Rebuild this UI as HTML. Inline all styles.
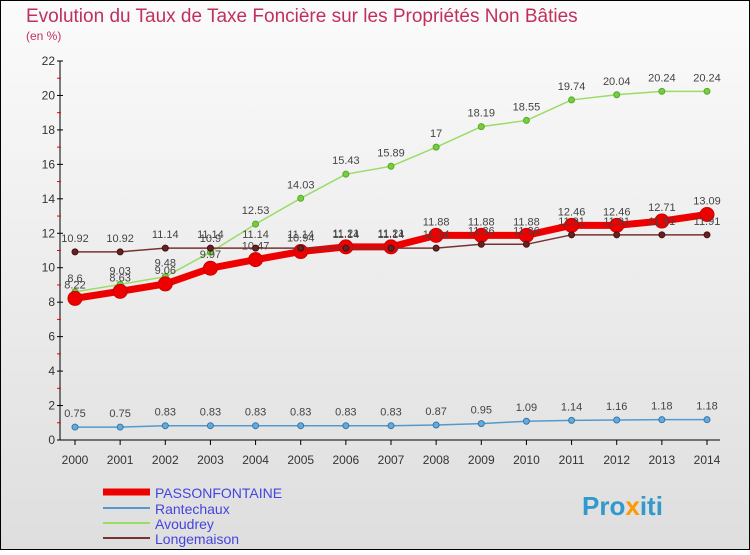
<!DOCTYPE html>
<html><head><meta charset="utf-8"><style>
body{margin:0;width:750px;height:550px;overflow:hidden;font-family:"Liberation Sans",sans-serif}
</style></head><body>
<svg id="c" width="750" height="550" xmlns="http://www.w3.org/2000/svg">
<defs><linearGradient id="bg" x1="0" y1="0" x2="0" y2="1"><stop offset="0" stop-color="#fbfbfb"/><stop offset="1" stop-color="#dedede"/></linearGradient></defs>
<rect x="0.5" y="0.5" width="749" height="549" fill="url(#bg)" stroke="#000"/>
<text x="26" y="22" font-size="19" fill="#c0305a">Evolution du Taux de Taxe Foncière sur les Propriétés Non Bâties</text>
<text x="26" y="40" font-size="12" fill="#c0305a">(en %)</text>
<g id="axes"></g><g id="series"></g>
<g>
<line x1="103" y1="492" x2="150" y2="492" stroke="#e00" stroke-width="7"/>
<text x="155" y="498" font-size="14" fill="#4444dd">PASSONFONTAINE</text>
<line x1="103" y1="508" x2="150" y2="508" stroke="#5599cc" stroke-width="2"/>
<text x="155" y="514" font-size="14" fill="#4444dd">Rantechaux</text>
<line x1="103" y1="523" x2="150" y2="523" stroke="#99dd66" stroke-width="2"/>
<text x="155" y="529" font-size="14" fill="#4444dd">Avoudrey</text>
<line x1="103" y1="538" x2="150" y2="538" stroke="#773333" stroke-width="2"/>
<text x="155" y="544" font-size="14" fill="#4444dd">Longemaison</text>
</g>
<text x="582" y="515" font-size="26" font-weight="bold" fill="#3399cc">Pro<tspan fill="#ff9900">x</tspan>iti</text>
</svg>
<script>
const years=[2000,2001,2002,2003,2004,2005,2006,2007,2008,2009,2010,2011,2012,2013,2014];
const passon=[8.22,8.63,9.06,9.97,10.47,10.94,11.21,11.21,11.88,11.88,11.88,12.46,12.46,12.71,13.09];
const rante=[0.75,0.75,0.83,0.83,0.83,0.83,0.83,0.83,0.87,0.95,1.09,1.14,1.16,1.18,1.18];
const avou=[8.6,9.03,9.48,10.9,12.53,14.03,15.43,15.89,17,18.19,18.55,19.74,20.04,20.24,20.24];
const longe=[10.92,10.92,11.14,11.14,11.14,11.14,11.14,11.14,11.14,11.36,11.36,11.91,11.91,11.91,11.91];
const yTicks=[0,2,4,6,8,10,12,14,16,18,20,22];
const NS="http://www.w3.org/2000/svg";
const X=y=>75+(y-2000)*(632/14), Y=v=>440-v*(379/22);
function mk(t,a,p){const e=document.createElementNS(NS,t);for(const k in a)e.setAttribute(k,a[k]);p.appendChild(e);return e;}
const ax=document.getElementById('axes'), sg=document.getElementById('series');
const ya=mk('line',{x1:60,y1:Y(22),x2:60,y2:440,stroke:'#000'},ax);


const xa=mk('line',{x1:60,y1:440,x2:720,y2:440,stroke:'#000'},ax);


yTicks.forEach(v=>{
 mk('line',{x1:57,y1:Y(v),x2:63,y2:Y(v),stroke:'#000'},ax);
 if(v<22) mk('line',{x1:57,y1:Y(v+1),x2:61,y2:Y(v+1),stroke:'#e00'},ax);
 const t=mk('text',{x:55,y:Y(v)+4,'font-size':12,fill:'#333','text-anchor':'end'},ax);t.textContent=v;
 
 
});
years.forEach(y=>{
 mk('line',{x1:X(y),y1:440,x2:X(y),y2:445,stroke:'#000'},ax);
 const t=mk('text',{x:X(y),y:464,'font-size':12,fill:'#333','text-anchor':'middle'},ax);t.textContent=y;
 
 
});
function series(d,col,w,r,name,fill,stroke){
 const g=mk('g',{},sg);
 
 
 mk('polyline',{points:d.map((v,i)=>X(years[i])+','+Y(v)).join(' '),fill:'none',stroke:col,'stroke-width':w,'stroke-linejoin':'round'},g);
 d.forEach((v,i)=>{
  const c=mk('circle',{cx:X(years[i]),cy:Y(v),r:r,fill:fill,stroke:stroke,'stroke-width':1},g);
  
  
  const t=mk('text',{x:X(years[i]),y:Y(v)-10,'font-size':11,fill:'#444','text-anchor':'middle'},g);t.textContent=v;
  
  
 });
}
series(rante,'#5599cc',1.5,3,'rantechaux','#66aadd','#3377aa');
series(avou,'#99dd66',1.5,3,'avoudrey','#77cc44','#55aa22');
series(passon,'#ee0000',7,7,'passonfontaine','#ee0000','#cc0000');
series(longe,'#773333',1.5,3,'longemaison','#662222','#441111');
</script>
</body></html>
